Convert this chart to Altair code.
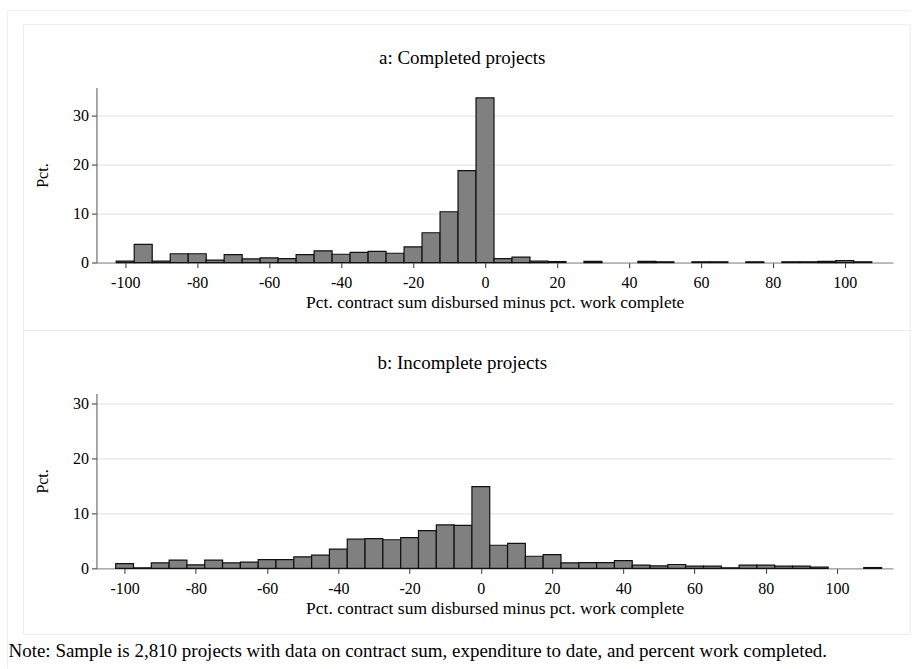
import altair as alt
import pandas as pd

# ---------------- data ----------------
bin_mid_a = list(range(-100, 110, 5))          # bin centres, width 5
pct_a = [0.3, 3.7, 0.3, 1.8, 1.8, 0.5, 1.6, 0.75, 0.95, 0.8,
         1.6, 2.4, 1.7, 2.1, 2.3, 1.9, 3.2, 6.1, 10.4, 18.8,
         33.7, 0.8, 1.1, 0.3, 0.2, 0.0, 0.25, 0.0, 0.0, 0.25,
         0.15, 0.0, 0.15, 0.15, 0.0, 0.15, 0.0, 0.15, 0.15, 0.25,
         0.4, 0.15]

bin_mid_b = list(range(-100, 115, 5))
pct_b = [0.85, 0.1, 1.0, 1.5, 0.65, 1.5, 1.0, 1.15, 1.6, 1.6,
         2.1, 2.4, 3.5, 5.3, 5.4, 5.2, 5.6, 6.85, 7.9, 7.8,
         14.85, 4.2, 4.55, 2.2, 2.5, 1.0, 1.05, 1.05, 1.4, 0.6,
         0.45, 0.7, 0.4, 0.4, 0.1, 0.6, 0.6, 0.4, 0.4, 0.25,
         0.0, 0.0, 0.15]

x_ticks = [-100, -80, -60, -40, -20, 0, 20, 40, 60, 80, 100]
y_ticks = [0, 10, 20, 30]
x_title = "Pct. contract sum disbursed minus pct. work complete"
y_title = "Pct."
title_a = "a: Completed projects"
title_b = "b: Incomplete projects"
note = ("Note: Sample is 2,810 projects with data on contract sum, "
        "expenditure to date, and percent work completed.")

BIN_W = 5
W, H = 797, 175
FONT = "Liberation Serif"
one = alt.Data(values=[{"k": 1}])


def bars_layer(mids, pcts, xdom, ydom):
    df = pd.DataFrame({"mid": mids, "pct": pcts})
    df = df[df["pct"] > 0].copy()
    df["lo"] = df["mid"] - BIN_W / 2
    df["hi"] = df["mid"] + BIN_W / 2
    df["z"] = 0
    return alt.Chart(df).mark_rect(
        fill="#808080", stroke="#111111", strokeWidth=1.2
    ).encode(
        x=alt.X("lo:Q",
                scale=alt.Scale(domain=xdom, nice=False, zero=False),
                axis=alt.Axis(values=x_ticks, title=x_title, grid=False,
                              labelExpr="datum.value + ''",
                              tickSize=5, labelPadding=7, titlePadding=3,
                              domainColor="#888888", tickColor="#333333",
                              labelFontSize=16, titleFontSize=17.5,
                              labelColor="#000", titleColor="#000",
                              titleFontWeight="normal", labelFont=FONT,
                              titleFont=FONT, labelFlush=False)),
        x2="hi:Q",
        y=alt.Y("pct:Q",
                scale=alt.Scale(domain=ydom, nice=False, zero=True),
                axis=alt.Axis(values=y_ticks, title=y_title, grid=True,
                              gridColor="#e6e6e6", gridWidth=1.2,
                              tickSize=5, labelPadding=3, titlePadding=22,
                              domainColor="#555555", tickColor="#333333",
                              labelFontSize=16, titleFontSize=16,
                              labelColor="#000", titleColor="#000",
                              titleFontWeight="normal", labelFont=FONT,
                              titleFont=FONT)),
        y2="z:Q",
    )


def box(x, x2, y, y2, color="#ececec"):
    return alt.Chart(one).mark_rect(
        fillOpacity=0, stroke=color, strokeWidth=1
    ).encode(x=alt.value(x), x2=alt.value(x2), y=alt.value(y), y2=alt.value(y2))


def rule(x, x2, y, y2, color="#eeeeee"):
    return alt.Chart(one).mark_rule(stroke=color, strokeWidth=1).encode(
        x=alt.value(x), x2=alt.value(x2), y=alt.value(y), y2=alt.value(y2))


def label(text, x, y, size, align="center"):
    return alt.Chart(one).mark_text(
        font=FONT, fontSize=size, color="#000", align=align,
        baseline="alphabetic"
    ).encode(x=alt.value(x), y=alt.value(y), text=alt.value(text))


# panel a (plot origin at 96, 87 in the page)
outer_top = rule(-89, 815, -77, -77)
outer_left = rule(-89, -89, -77, 581)
box_a = box(-73, 814, -63, 243)
panel_a = alt.layer(
    outer_top, outer_left, box_a,
    bars_layer(bin_mid_a, pct_a, [-108, 113.4], [0, 35.8]),
    label(title_a, 366, -24, 19),
).properties(width=W, height=H)

# panel b (plot origin at 96, 393 in the page)
box_b = box(-73, 814, -63, 241)
panel_b = alt.layer(
    box_b,
    bars_layer(bin_mid_b, pct_b, [-107.9, 115.7], [0, 31.8]),
    label(title_b, 366, -24, 19),
    label(note, -88, 264, 19, align="left"),
).properties(width=W, height=H)

chart = alt.vconcat(panel_a, panel_b, spacing=131, bounds="flush").properties(
    padding={"left": 6.5, "top": 9.5, "right": 0, "bottom": 0},
    background="white",
).configure(font=FONT).configure_view(stroke=None)

chart.save("out.html", embed_options={"renderer": "svg", "actions": False})
